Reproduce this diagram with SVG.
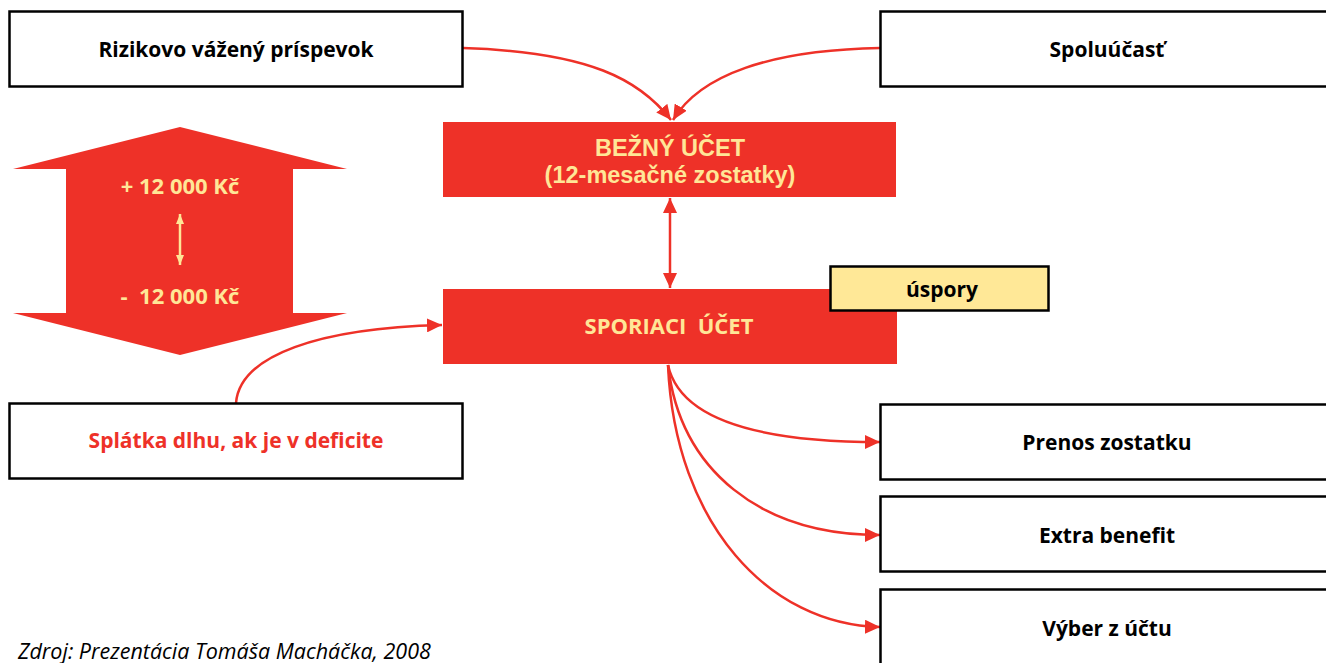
<svg xmlns="http://www.w3.org/2000/svg" width="1326" height="663" viewBox="0 0 1326 663">
<style>
.box{fill:#fff;stroke:#000;stroke-width:2.5}
.red{fill:#EE3128}
.t{font-family:"Open Sans","Liberation Sans",sans-serif;font-weight:700;font-size:21px;text-anchor:middle;fill:#000}
.ty{font-family:"Liberation Sans",Arial,sans-serif;font-weight:700;font-size:23.5px;text-anchor:middle;fill:#FFE697}
.tyo{font-family:"Open Sans","Liberation Sans",sans-serif;font-weight:700;font-size:22px;text-anchor:middle;fill:#FFE697}
.c{fill:none;stroke:#EE3128;stroke-width:2.5}
</style>
<defs>
<marker id="ah" markerUnits="userSpaceOnUse" markerWidth="16" markerHeight="14" refX="15" refY="7" orient="auto">
<path d="M0,0 L15,7 L0,14 Z" fill="#EE3128"/>
</marker>
<marker id="ahs" markerUnits="userSpaceOnUse" markerWidth="16" markerHeight="14" refX="15" refY="7" orient="auto-start-reverse">
<path d="M0,0 L15,7 L0,14 Z" fill="#EE3128"/>
</marker>
<marker id="ya" markerUnits="userSpaceOnUse" markerWidth="10" markerHeight="8" refX="10" refY="4" orient="auto-start-reverse">
<path d="M0,0 L10,4 L0,8 Z" fill="#FFE697"/>
</marker>
</defs>

<g id="connectors">
<path class="c" d="M463,48 C590,52 640,80 671,120" marker-end="url(#ah)"/>
<path class="c" d="M880,48 C770,50 700,75 673,120" marker-end="url(#ah)"/>
<path class="c" d="M670,198 L670,288" marker-start="url(#ahs)" marker-end="url(#ahs)"/>
<path class="c" d="M236,403 C240,355 320,328 442,325" marker-end="url(#ah)"/>
<path class="c" d="M668,365 C680,420 760,442 880,442" marker-end="url(#ah)"/>
<path class="c" d="M668,365 C680,470 760,535 880,535" marker-end="url(#ah)"/>
<path class="c" d="M668,365 C675,525 770,625 880,627" marker-end="url(#ah)"/>
</g>

<g id="n-riziko">
<rect class="box" x="9.5" y="11.5" width="453" height="75"/>
<text class="t" x="236" y="57">Rizikovo vážený príspevok</text>
</g>
<g id="n-spoluucast">
<rect class="box" x="880.5" y="11.5" width="450" height="75"/>
<text class="t" x="1107" y="57">Spoluúčasť</text>
</g>
<g id="n-bezny">
<rect class="red" x="443" y="122" width="453" height="75"/>
<text class="ty" x="670" y="156">BEŽNÝ ÚČET</text>
<text class="ty" x="670" y="183">(12-mesačné zostatky)</text>
</g>
<g id="n-bigarrow">
<polygon class="red" points="180,127 347,169 293,169 293,313 347,313 180,355 13,313 66,313 66,169 13,169"/>
<text class="tyo" x="180" y="194">+ 12 000 Kč</text>
<text class="tyo" x="180" y="304" xml:space="preserve">-  12 000 Kč</text>
<path d="M180,214 L180,265" stroke="#FFE697" stroke-width="2.5" marker-start="url(#ya)" marker-end="url(#ya)"/>
</g>
<g id="n-sporiaci">
<rect class="red" x="443" y="289" width="454" height="75"/>
<text class="tyo" x="669" y="334" xml:space="preserve">SPORIACI  ÚČET</text>
</g>
<g id="n-uspory">
<rect x="830.5" y="266.5" width="218" height="44" fill="#FFE897" stroke="#000" stroke-width="2.5"/>
<text class="t" x="942" y="297">úspory</text>
</g>
<g id="n-splatka">
<rect class="box" x="9.5" y="403.5" width="453" height="75"/>
<text class="t" x="236" y="448" style="fill:#EE3128">Splátka dlhu, ak je v deficite</text>
</g>
<g id="n-prenos">
<rect class="box" x="880.5" y="404.5" width="450" height="75"/>
<text class="t" x="1107" y="450">Prenos zostatku</text>
</g>
<g id="n-extra">
<rect class="box" x="880.5" y="496.5" width="450" height="75"/>
<text class="t" x="1107" y="543">Extra benefit</text>
</g>
<g id="n-vyber">
<rect class="box" x="880.5" y="589.5" width="450" height="80"/>
<text class="t" x="1107" y="636">Výber z účtu</text>
</g>
<text x="18" y="659" font-family="Open Sans, Liberation Sans, sans-serif" font-style="italic" font-size="21.5" fill="#000">Zdroj: Prezentácia Tomáša Macháčka, 2008</text>
</svg>
